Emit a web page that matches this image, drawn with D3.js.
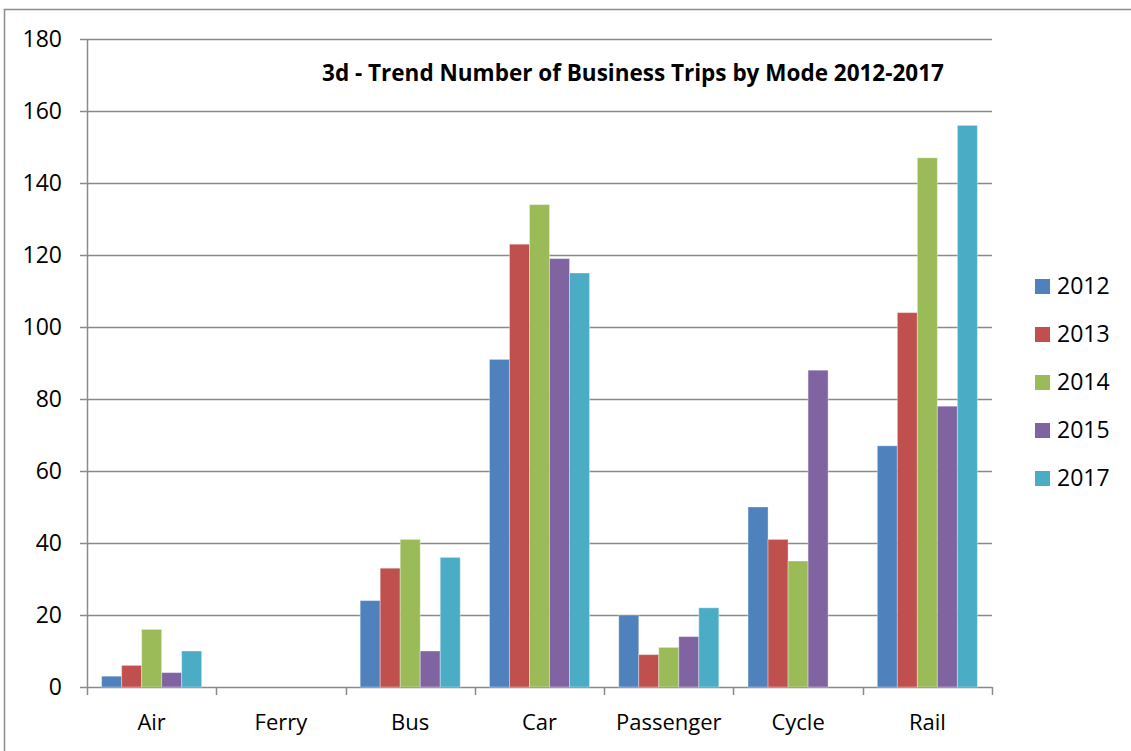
<!DOCTYPE html>
<html><head><meta charset="utf-8">
<script src="https://cdn.jsdelivr.net/npm/d3@7"></script>
<style>body{margin:0;background:#fff}svg{display:block}text{font-family:"Open Sans",Lato,sans-serif}</style>
</head><body><svg id="c" width="1131" height="751"></svg>
<script>
const categories = ["Air","Ferry","Bus","Car","Passenger","Cycle","Rail"];
const seriesNames = ["2012","2013","2014","2015","2017"];
const s2012 = [3,0,24,91,20,50,67];
const s2013 = [6,0,33,123,9,41,104];
const s2014 = [16,0,41,134,11,35,147];
const s2015 = [4,0,10,119,14,88,78];
const s2017 = [10,0,36,115,22,0,156];
const yTicks = [0,20,40,60,80,100,120,140,160,180];
const colors = ["#4F81BD","#C0504D","#9BBB59","#8064A2","#4BACC6"];
const title = "3d - Trend Number of Business Trips by Mode 2012-2017";
const series = [s2012,s2013,s2014,s2015,s2017];

const svg = d3.select("#c");
svg.append("rect").attr("x",4.5).attr("y",9.5).attr("width",1140).attr("height",760)
  .attr("fill","none").attr("stroke","#8c8c8c").attr("stroke-width",1.5);

const L=87, R=992, T=39, B=687;
const x = d3.scaleBand().domain(categories).range([L,R]).paddingInner(0.226).paddingOuter(0.113);
const xi = d3.scaleBand().domain(seriesNames).range([0,x.bandwidth()]);
const y = d3.scaleLinear().domain([0,180]).range([B,T]);

// gridlines
svg.append("g").selectAll("line").data(yTicks).join("line")
  .attr("x1",L-7).attr("x2",R).attr("y1",d=>Math.round(y(d))+0.5).attr("y2",d=>Math.round(y(d))+0.5)
  .attr("stroke","#8a8a8a").attr("stroke-width",1.5);

// bars
const g = svg.append("g");
categories.forEach((c,ci)=>{
  series.forEach((s,si)=>{
    if(s[ci]<=0) return;
    g.append("rect").attr("x",x(c)+xi(seriesNames[si])).attr("width",xi.bandwidth())
      .attr("y",y(s[ci])).attr("height",B-y(s[ci]))
      .attr("fill",colors[si]).attr("stroke","rgba(255,255,255,0.35)").attr("stroke-width",1);
  });
});

// y axis line
svg.append("line").attr("x1",L+0.5).attr("x2",L+0.5).attr("y1",T).attr("y2",B+1).attr("stroke","#8a8a8a").attr("stroke-width",1.5);
// x axis ticks
const step = (R-L)/categories.length;
const bounds = d3.range(categories.length+1).map(i=>L+i*step);
svg.append("g").selectAll("line").data(bounds).join("line")
  .attr("x1",d=>Math.round(d)+0.5).attr("x2",d=>Math.round(d)+0.5).attr("y1",B).attr("y2",B+8)
  .attr("stroke","#8a8a8a").attr("stroke-width",1.5);

// y labels
svg.append("g").selectAll("text").data(yTicks).join("text")
  .attr("x",62).attr("y",d=>y(d)).attr("dy","0.36em").attr("text-anchor","end")
  .attr("font-size",23).attr("fill","#000").text(d=>d);
// x labels
svg.append("g").selectAll("text").data(categories).join("text")
  .attr("x",d=>x(d)+x.bandwidth()/2).attr("y",722).attr("dy","0.36em").attr("text-anchor","middle")
  .attr("font-size",22).attr("fill","#000").text(d=>d);

// title
svg.append("text").attr("x",633).attr("y",73).attr("dy","0.36em").attr("text-anchor","middle")
  .attr("font-size",22.5).attr("font-weight","bold").attr("fill","#000").text(title);

// legend
const lg = svg.append("g");
seriesNames.forEach((n,i)=>{
  const cy = 286 + i*48;
  lg.append("rect").attr("x",1035).attr("y",cy-7).attr("width",15).attr("height",15).attr("fill",colors[i]);
  lg.append("text").attr("x",1057).attr("y",cy).attr("dy","0.36em").attr("font-size",23).attr("fill","#000").text(n);
});
</script></body></html>
